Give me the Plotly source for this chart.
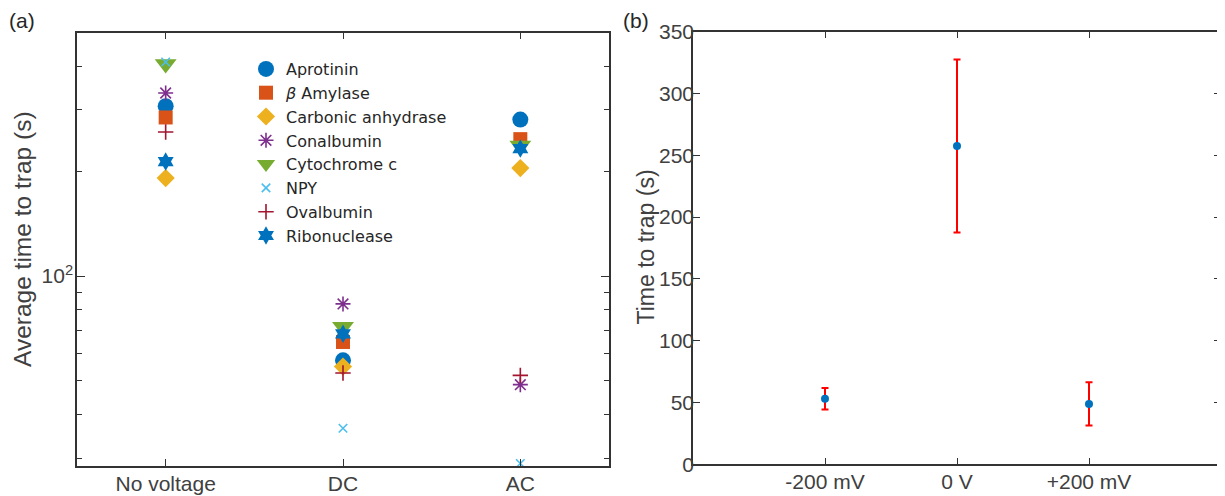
import plotly.graph_objects as go

# ---------------- data ----------------
conditions = ["No voltage", "DC", "AC"]
proteins = ["Aprotinin", "<i>β</i> Amylase", "Carbonic anhydrase", "Conalbumin",
            "Cytochrome c", "NPY", "Ovalbumin", "Ribonuclease"]
aprotinin = [307, 57.3, 281]
beta_amylase = [285, 64.7, 247]
carbonic_anhydrase = [191, 55.0, 204]
conalbumin = [335, 83.2, 48.8]
cytochrome_c = [406, 71.5, 237]
npy = [411, 36.6, 29.0]
ovalbumin = [259, 52.7, 51.9]
ribonuclease = [213, 68.3, 232]
series = [aprotinin, beta_amylase, carbonic_anhydrase, conalbumin,
          cytochrome_c, npy, ovalbumin, ribonuclease]

voltages = ["-200 mV", "0 V", "+200 mV"]
time_to_trap = [53, 257.5, 48.8]
time_err = [8.7, 70, 17.5]

# ---------------- styles ----------------
colors = ["#0072BD", "#D95319", "#EDB120", "#7E2F8E", "#77AC30", "#4DBEEE", "#A2142F", "#0072BD"]
symbols = ["circle", "square", "diamond", "asterisk-open", "triangle-down",
           "x-thin-open", "cross-thin-open", "hexagram"]
sizes = [16, 14, 14, 12.5, 19, 8.5, 11, 14]

axis_col = "#333333"
txt_col = "#404040"
font_family = "Liberation Sans, Arial, sans-serif"

# the page body has an 8px margin: size the figure so it fits the window
OFF, W, H = 8, 1217, 488


def px(x):
    return (x - OFF) / W


def py(y):
    return 1 - (y - OFF) / H


fig = go.Figure()
xpos = [1, 2, 3]
for name, vals, c, s, sz in zip(proteins, series, colors, symbols, sizes):
    fig.add_trace(go.Scatter(
        x=xpos, y=vals, mode="markers", name=name,
        marker=dict(symbol=s, color=c, size=sz, line=dict(color=c, width=1.6 if "open" in s else 0)),
        cliponaxis=False, xaxis="x", yaxis="y"))

fig.add_trace(go.Scatter(
    x=[1, 2, 3], y=time_to_trap, mode="markers", showlegend=False,
    marker=dict(color="#0072BD", size=8),
    error_y=dict(type="data", array=time_err, color="#FF0000", thickness=2, width=3.5),
    xaxis="x2", yaxis="y2"))

common = dict(showline=True, linecolor=axis_col, linewidth=1.5, mirror="allticks",
              ticks="inside", tickcolor=axis_col, tickwidth=1.2, showgrid=False, zeroline=False,
              automargin=False,
              tickfont=dict(size=21, color=txt_col, family=font_family))

fig.update_layout(
    template="none",
    width=W, height=H, margin=dict(l=0, r=0, t=0, b=0, pad=0),
    paper_bgcolor="white", plot_bgcolor="white",
    font=dict(family=font_family, color=txt_col),
    xaxis=dict(domain=[px(77), px(609)], range=[0.5, 3.5], tickmode="array",
               tickvals=xpos, ticktext=conditions, ticklen=7, anchor="y",
               ticklabelstandoff=-2, **common),
    yaxis=dict(domain=[py(465.7), py(32.7)], type="log", range=[1.456, 2.698], tickmode="array",
               tickvals=[100], ticktext=["10<sup>2</sup>"], ticklen=8, anchor="x",
               minor=dict(tickmode="array", tickvals=[30, 40, 50, 60, 70, 80, 90, 200, 300, 400],
                          ticks="inside", ticklen=5, tickcolor=axis_col, tickwidth=1.2),
               ticklabelstandoff=-2, **common),
    xaxis2=dict(domain=[px(693), px(1221)], range=[0, 4], tickmode="array",
                tickvals=[1, 2, 3], ticktext=voltages, ticklen=7, anchor="y2",
                ticklabelstandoff=-2, **common),
    yaxis2=dict(domain=[py(464.3), py(31.7)], range=[0, 350], tickmode="array",
                tickvals=[0, 50, 100, 150, 200, 250, 300, 350], ticklen=7, anchor="x2",
                ticklabelstandoff=-7, **common),
    legend=dict(x=px(246), y=py(52), xanchor="left", yanchor="top",
                bgcolor="rgba(0,0,0,0)",
                font=dict(size=16, color="#262626", family="DejaVu Sans, Liberation Sans, sans-serif")),
    annotations=[
        dict(text="(a)", x=px(7), y=py(20), xref="paper", yref="paper",
             xanchor="left", yanchor="middle", showarrow=False, font=dict(size=21, color="#262626")),
        dict(text="(b)", x=px(621), y=py(20), xref="paper", yref="paper",
             xanchor="left", yanchor="middle", showarrow=False, font=dict(size=21, color="#262626")),
        dict(text="Average time to trap (s)", x=px(22), y=py(239), xref="paper", yref="paper",
             textangle=-90, xanchor="center", yanchor="middle", showarrow=False,
             font=dict(size=24.5, color=txt_col)),
        dict(text="Time to trap (s)", x=px(645), y=py(247.5), xref="paper", yref="paper",
             textangle=-90, xanchor="center", yanchor="middle", showarrow=False,
             font=dict(size=23, color=txt_col)),
    ],
)

fig.write_html("out.html")
